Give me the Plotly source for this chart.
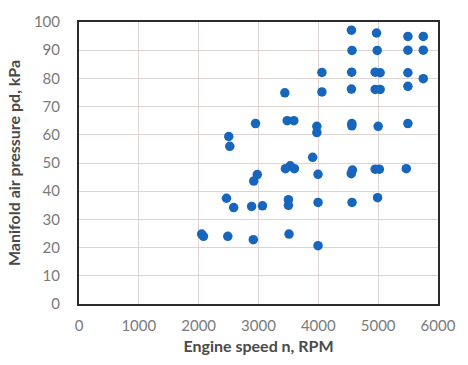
import plotly.graph_objects as go

# Engine operating points: speed (RPM) and manifold air pressure (kPa)
engine_speed = [
    2050, 2080, 2465, 2585, 2487, 2503, 2520,
    2950, 2980, 2920, 2885, 3066, 2913,
    3440, 3480, 3590, 3450, 3530, 3600,
    3500, 3500, 3510, 3905, 3975, 3975,
    3995, 3995, 3995, 4060, 4060,
    4553, 4563, 4557, 4553, 4560, 4560,
    4550, 4570, 4563,
    4973, 4984, 4950, 5033, 4950, 5033,
    5000, 4950, 5020, 4990,
    5497, 5497, 5497, 5497, 5497, 5470,
    5754, 5754, 5754,
]
manifold_pressure = [
    24.8, 24.0, 37.5, 34.2, 24.0, 59.4, 55.9,
    64.0, 45.9, 43.6, 34.6, 34.8, 22.8,
    74.9, 65.0, 65.0, 48.0, 49.0, 48.0,
    37.0, 35.0, 24.8, 52.0, 63.0, 60.8,
    46.0, 36.0, 20.7, 82.1, 75.2,
    97.1, 89.9, 82.2, 76.2, 64.0, 63.2,
    46.2, 47.5, 36.0,
    96.1, 89.9, 82.2, 82.0, 76.1, 76.1,
    63.0, 47.8, 47.8, 37.7,
    94.9, 90.0, 82.0, 77.2, 64.0, 48.0,
    94.9, 90.0, 79.9,
]

x_ticks = [0, 1000, 2000, 3000, 4000, 5000, 6000]
y_ticks = [0, 10, 20, 30, 40, 50, 60, 70, 80, 90, 100]

fig = go.Figure(
    go.Scatter(
        x=engine_speed,
        y=manifold_pressure,
        mode="markers",
        marker=dict(size=9.5, color="#1766BD"),
        hoverinfo="x+y",
    )
)

axis_common = dict(
    showgrid=True,
    gridcolor="#DDD3D3",
    gridwidth=1,
    zeroline=False,
    showline=True,
    linecolor="#2B2B2B",
    linewidth=2,
    mirror=True,
    ticks="",
    tickfont=dict(family="Lato, sans-serif", size=15, color="#7A7A7A"),
)

title_font = dict(family="Lato, sans-serif", size=16, color="#4A4A4A")

fig.update_xaxes(
    range=[0, 6000],
    tickvals=x_ticks,
    ticklabelstandoff=7,
    title=dict(text="<b>Engine speed n, RPM</b>", font=title_font, standoff=8),
    **axis_common,
)
fig.update_yaxes(
    range=[0, 100],
    tickvals=y_ticks,
    ticklabelstandoff=14,
    title=dict(text="<b>Manifold air pressure pd, kPa</b>", font=title_font, standoff=9),
    **axis_common,
)

fig.update_layout(
    width=468,
    height=365,
    margin=dict(l=79, r=24, t=20, b=61),
    paper_bgcolor="white",
    plot_bgcolor="white",
    showlegend=False,
)

fig.write_html("out.html")
